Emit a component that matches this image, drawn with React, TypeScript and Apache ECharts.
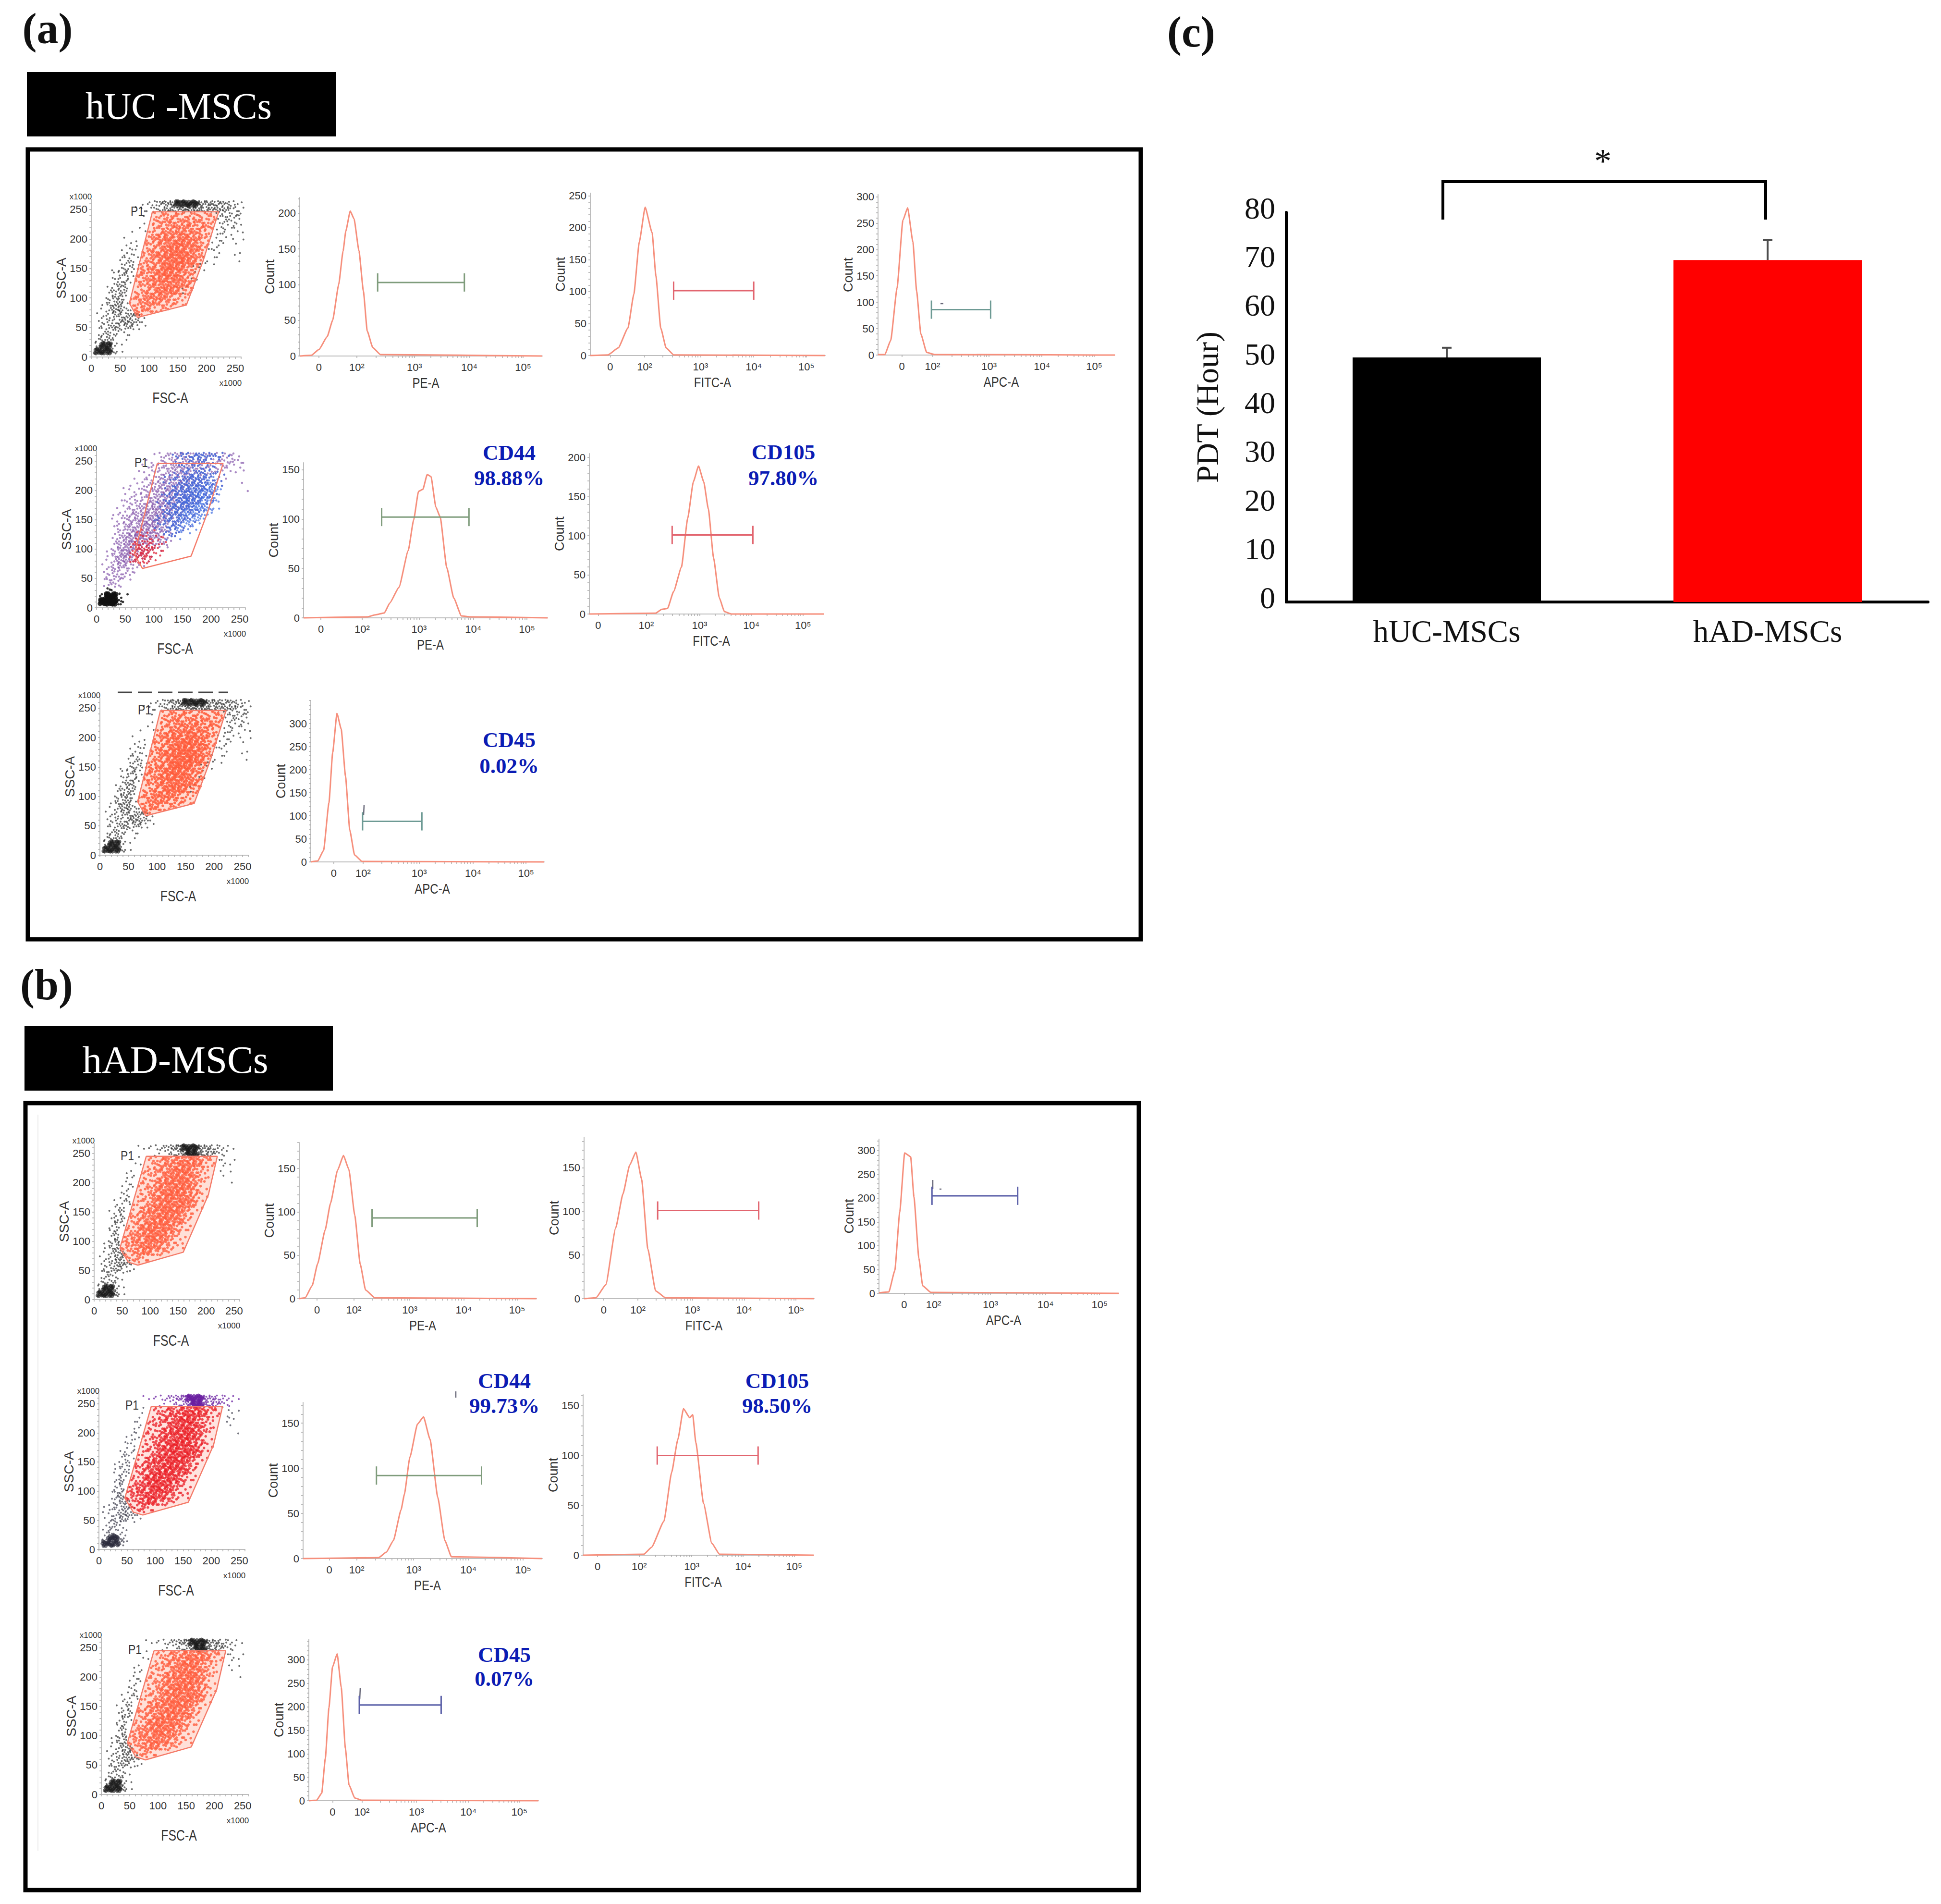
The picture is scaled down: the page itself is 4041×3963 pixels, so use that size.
import React, { useEffect, useRef } from "react";
import * as echarts from "echarts";

// ---------- panel (c) values ----------
const pdtCategories = ["hUC-MSCs", "hAD-MSCs"];
const pdtValues = [50.2, 70.2];
const pdtErrors = [2.0, 4.1];
const pdtTicks = [0, 10, 20, 30, 40, 50, 60, 70, 80];

// ---------- histogram curves: [display position in decades, count] ----------
const aPeCurve = [[0.91,0],[1.12,1],[1.26,9],[1.41,27],[1.51,50],[1.62,100],[1.7,147],[1.75,175],[1.83,203],[1.9,192],[1.99,147],[2.07,91],[2.14,35],[2.24,12],[2.38,2],[5.33,0]];
const aFitcCurve = [[0.95,0],[1.28,1],[1.47,12],[1.65,43],[1.76,96],[1.86,177],[1.97,232],[2.1,192],[2.17,125],[2.26,43],[2.36,12],[2.5,1],[5.32,0]];
const aApcCurve = [[0.9,1],[1.03,1],[1.14,28],[1.26,127],[1.37,255],[1.46,279],[1.56,214],[1.63,121],[1.71,40],[1.82,5],[1.97,1],[5.38,0]];
const aCd44Curve = [[0.87,0],[2.05,1],[2.19,3],[2.36,5],[2.46,15],[2.63,31],[2.8,68],[2.9,99],[2.99,128],[3.07,130],[3.15,145],[3.22,143],[3.31,112],[3.39,102],[3.51,51],[3.64,20],[3.78,2],[3.95,1],[5.37,0]];
const aCd105Curve = [[0.87,0],[2.15,1],[2.27,6],[2.38,7],[2.5,29],[2.65,60],[2.77,122],[2.88,169],[2.98,189],[3.08,169],[3.17,134],[3.27,72],[3.38,21],[3.48,3],[3.62,0],[5.4,0]];
const aCd45Curve = [[0.97,0],[1.1,2],[1.21,25],[1.31,128],[1.38,237],[1.46,322],[1.54,288],[1.62,186],[1.7,69],[1.79,15],[1.93,1],[5.34,0]];
const bPeCurve = [[0.95,0],[1.06,1],[1.19,15],[1.29,40],[1.43,79],[1.53,110],[1.66,148],[1.77,165],[1.87,149],[1.98,96],[2.08,40],[2.18,10],[2.35,1],[5.35,0]];
const bFitcCurve = [[0.91,0],[1.14,1],[1.33,16],[1.52,81],[1.66,120],[1.79,153],[1.91,168],[2.02,137],[2.14,57],[2.29,9],[2.48,1],[5.35,0]];
const bApcCurve = [[0.96,1],[1.14,3],[1.25,48],[1.34,171],[1.43,295],[1.54,287],[1.6,203],[1.69,74],[1.76,16],[1.91,2],[5.35,0]];
const bCd44Curve = [[0.98,0],[2.36,1],[2.5,7],[2.63,20],[2.77,54],[2.83,71],[2.93,112],[3.07,149],[3.18,157],[3.3,132],[3.44,68],[3.57,20],[3.69,2],[5.35,0]];
const bCd105Curve = [[0.89,0],[2.07,1],[2.22,8],[2.46,34],[2.61,83],[2.73,116],[2.84,147],[2.96,138],[3.02,141],[3.08,113],[3.23,52],[3.39,12],[3.54,1],[5.37,0]];
const bCd45Curve = [[0.91,0],[1.06,1],[1.16,16],[1.23,90],[1.3,198],[1.37,285],[1.46,313],[1.54,241],[1.62,111],[1.69,34],[1.8,6],[1.94,1],[5.37,0]];

const decadeLabels = ["0", "10²", "10³", "10⁴", "10⁵"];
const scatterLabels = [0, 50, 100, 150, 200, 250];

// ---------- scatter gates ----------
const aGate = [[106,246],[221,246],[194,163],[165,88],[80,67],[66,91],[106,246]];
const bGate = [[93,245],[220,245],[204,179],[159,81],[78,59],[61,64],[46,88],[93,245]];

// ---------- scatter densities: rows from SSC 260 downward, one char per 10 FSC units ----------
const aOutsideDensity = [
"000000000124578999987765431","000000001223467788887666432","000000000100000000000023432","000000000100000000000023321",
"000000001000000000000013221","000000010100000000000022111","000000101000000000000122011","000000111000000000000121010",
"000001121000000000001210001","000001231000000000001110010","000002341000000000012100001","000012430000000000111000000",
"000013520000000000100000000","000024510000000001100000000","000135400000000011000000000","000245300000000010000000000",
"000356200000000000000000000","001467100000000000000000000","001367310000000000000000000","012345664100000000000000000",
"012346764100000000000000000","012464452100000000000000000","013531210000000000000000000","025420100000000000000000000",
"039921000000000000000000000","099951000000000000000000000"];
const aGateDensity = [
"0000000000023434343333","0000000000034454545443","0000000000234556565543","000000000024566676543",
"000000000035677787643","000000000234678988753","00000000034567899764","00000000024678999864",
"00000000234578999763","0000000024567998753","0000000034568988642","00000002345778876432",
"0000000023567877543","0000000034567776432","000000024566654320","00000002356544322",
"00000002454322","0000000022"];
const a2OutsideDensity = [
"000000000012345666665443210","000000000112334555654433321","000000001123456666654332110","000000011123456776654321101",
"000000011234567787653211000","000000112345678887653110010","000001123456788887542100001","000001223456788887531100000",
"000012234567888875321000000","000012345678888764210000000","000123456788887532100000000","000123567788876421000000000",
"000124667887654210000000000","000135677876543100000000000","000146788765421000000000000","000256887654310000000000000",
"001367875432100000000000000","001478764310000000000000000","001367543100000000000000000","012455421000000000000000000",
"012343210000000000000000000","013442100000000000000000000","012420000000000000000000000"];
const a2CoreDensity = [
"000000000000012345654321000","000000000000001233432100000","000000000000001223332100000","000000000000012345543210000",
"000000000000123567765310000","000000000000124678876410000","000000000000135789987410000","000000000001246899986300000",
"000000000001357899975200000","000000000001357899864100000","000000000001467887531000000","000000000012467765310000000",
"000000000012356532100000000","000000000001234321000000000","000000000000121100000000000"];
const a2LowDensity = ["0000000111100","0000000222221","0000001344321","0000002566421","0000003675310","0000002553100"];
const originDensity = ["003200000","039921000","099951000"];
const bOutsideDensity = [
"000000001122346899986542110","000000000001123589987532100","000000001000000000000011010","000000011000000000000002100",
"000000110000000000000001100","000000120000000000000001000","000000210000000000000000010","000001210000000000000000000",
"000002200000000000000000000","000012300000000000000000000","000023100000000000000000000","000124000000000000000000000",
"000134000000000000000000000","000143000000000000000000000","000250000000000000000000000","000240000000000000000000000",
"001360000000000000000000000","001460000000000000000000000","001356000000000000000000000","012356100000000000000000000",
"012367410000000000000000000","013453210000000000000000000","013320000000000000000000000","024321000000000000000000000",
"039931000000000000000000000","099961000000000000000000000"];
const bGateDensity = [
"0000000000234546766532","0000000000234567776532","000000000234567887532","0000000002234678875320",
"000000002234678887521","000000002245778887421","000000002245788887421","00000002234678888752",
"00000002245788887531","0000000235678887532","000000234567888753","000000234678887531",
"000000235788876421","000002356788764211","000002456778653210","00000235677654211",
"00000234566432","000002333211","000000222"];
const bTopBand = ["000000001122346899986542110","000000000001123589987532100"];
// where inside a 10-unit density cell its counted dots sit
const cellSpots = [[-3,2],[3,-3],[0,4],[-4,-3],[4,3],[1,-1],[-2,-4],[3,1],[-1,3],[-4,0],[2,-4],[-1,-2],[4,-1],[-3,4],[1,2],[-2,-1]];

// ---------- layout ----------
const W = 4041;
const H = 3963;
const SANS = '"Liberation Sans","DejaVu Sans",sans-serif';
const SERIF = '"Liberation Serif","Times New Roman",serif';
const BLUE = "#0b1cb4";
const CURVE = "#f68f7c";
const GREEN = "#7f9c7c";
const ROSE = "#e2656f";
const TEAL = "#6d9a94";
const INDIGO = "#5a5fa8";

const layer = (rows, top, color, size, opacity, clipToGate = false, swell = false) => ({ rows, top, color, size, opacity, clipToGate, swell });

const scatterPanels = [
  { box: [189, 502, 415, 743], gate: aGate, pale: "#ffe0d8", p1: [97, 24], layers: [layer(aOutsideDensity, 260, "#1a1a1a", 4, 0.65, false, true)], inner: [layer(aGateDensity, 240, "#ff5a3a", 5.5, 0.78, true)] },
  { box: [200, 511, 939, 1265], gate: aGate, pale: null, p1: [94, 23], layers: [layer(originDensity, 30, "#111", 5, 0.85, false, true), layer(a2OutsideDensity, 260, "#75409f", 4.5, 0.62)], inner: [layer(a2CoreDensity, 260, "#3a6ae0", 4.5, 0.7), layer(a2LowDensity, 130, "#e0283c", 4.5, 0.8)] },
  { box: [207, 517, 1453, 1780], gate: aGate, pale: "#ffdcd2", p1: [94, 24], layers: [layer(aOutsideDensity, 260, "#1a1a1a", 4, 0.65, false, true)], inner: [layer(aGateDensity, 240, "#ff5a3a", 5.5, 0.85, true)] },
  { box: [195, 499, 2380, 2705], gate: bGate, pale: "#ffe0d8", p1: [70, 25], layers: [layer(bOutsideDensity, 260, "#1a1a1a", 4, 0.65, false, true)], inner: [layer(bGateDensity, 240, "#ff5a3a", 5.5, 0.78, true)] },
  { box: [205, 510, 2901, 3225], gate: bGate, pale: "#ffe4e0", p1: [70, 23], layers: [layer(bOutsideDensity.slice(2), 240, "#2a2a3a", 4, 0.65, false, true), layer(bTopBand, 260, "#6a1fa0", 4, 0.75, false, true)], inner: [layer(bGateDensity, 240, "#ea1a22", 5.5, 0.75, true)] },
  { box: [210, 517, 3409, 3735], gate: bGate, pale: "#ffe0d8", p1: [71, 24], layers: [layer(bOutsideDensity, 260, "#1a1a1a", 4, 0.65, false, true)], inner: [layer(bGateDensity, 240, "#ff5a3a", 5.5, 0.78, true)] },
];

const histPanels = [
  { box: [624, 1129, 411, 741], curve: aPeCurve, yMax: 222, yLabels: [0,50,100,150,200], xTicks: [1.26,1.95,3,4,4.98], name: "PE-A", gate: [2.33,3.91,103], gateColor: GREEN },
  { box: [1229, 1718, 402, 740], curve: aFitcCurve, yMax: 254, yLabels: [0,50,100,150,200,250], xTicks: [1.32,1.96,3,3.99,4.97], name: "FITC-A", gate: [2.5,3.99,101.5], gateColor: ROSE },
  { box: [1828, 2321, 405, 739], curve: aApcCurve, yMax: 304, yLabels: [0,50,100,150,200,250,300], xTicks: [1.35,1.93,3,4,4.99], name: "APC-A", gate: [1.91,3.03,86], gateColor: TEAL },
  { box: [632, 1140, 963, 1286], curve: aCd44Curve, yMax: 157, yLabels: [0,50,100,150], xTicks: [1.19,1.95,3,4,4.99], name: "PE-A", gate: [2.31,3.92,102], gateColor: GREEN },
  { box: [1227, 1715, 944, 1278], curve: aCd105Curve, yMax: 205, yLabels: [0,50,100,150,200], xTicks: [1.04,1.97,3,4,5], name: "FITC-A", gate: [2.47,4.03,101], gateColor: ROSE },
  { box: [647, 1133, 1458, 1794], curve: aCd45Curve, yMax: 350, yLabels: [0,50,100,150,200,250,300], xTicks: [1.4,1.95,3,4.01,5], name: "APC-A", gate: [1.94,3.05,88], gateColor: TEAL },
  { box: [623, 1117, 2378, 2703], curve: bPeCurve, yMax: 180, yLabels: [0,50,100,150], xTicks: [1.28,1.96,3,4,4.99], name: "PE-A", gate: [2.3,4.25,93], gateColor: GREEN },
  { box: [1216, 1695, 2367, 2703], curve: bFitcCurve, yMax: 185, yLabels: [0,50,100,150], xTicks: [1.29,1.95,3,4,5], name: "FITC-A", gate: [2.33,4.28,101], gateColor: ROSE },
  { box: [1830, 2329, 2371, 2692], curve: bApcCurve, yMax: 324, yLabels: [0,50,100,150,200,250,300], xTicks: [1.42,1.96,3,4.01,5], name: "APC-A", gate: [1.93,3.5,205], gateColor: INDIGO },
  { box: [631, 1129, 2919, 3244], curve: bCd44Curve, yMax: 173, yLabels: [0,50,100,150], xTicks: [1.46,1.96,3,4,5], name: "PE-A", gate: [2.32,4.24,92], gateColor: GREEN },
  { box: [1214, 1694, 2903, 3237], curve: bCd105Curve, yMax: 161, yLabels: [0,50,100,150], xTicks: [1.17,1.98,3,4,4.99], name: "FITC-A", gate: [2.33,4.29,100], gateColor: ROSE },
  { box: [643, 1121, 3412, 3748], curve: bCd45Curve, yMax: 344, yLabels: [0,50,100,150,200,250,300], xTicks: [1.37,1.94,3,4.01,5], name: "APC-A", gate: [1.89,3.48,204], gateColor: INDIGO },
];

const markerTexts = [
  ["CD44", 1060, 942], ["98.88%", 1060, 995],
  ["CD105", 1631, 941], ["97.80%", 1631, 995],
  ["CD45", 1060, 1540], ["0.02%", 1060, 1594],
  ["CD44", 1050, 2874], ["99.73%", 1050, 2926],
  ["CD105", 1618, 2874], ["98.50%", 1618, 2926],
  ["CD45", 1050, 3444], ["0.07%", 1050, 3494],
];
// stray marks left in the source plots
const strayMarks = [[758,1675,757,1696],[750,3513,749,3537],[1942,2456,1942,2475],[1956,2475,1960,2475],[1958,632,1964,632],[949,2896,949,2909]];

const range = (from, to, step) => {
  const out = [];
  for (let v = from; v <= to + 1e-9; v += step) out.push(+v.toFixed(3));
  return out;
};
const decadeMinor = [0.301, 0.477, 0.602, 0.699, 0.778, 0.845, 0.903, 0.954];

function inPolygon(x, y, poly) {
  let inside = false;
  for (let i = 0, j = poly.length - 1; i < poly.length; j = i++) {
    const [xi, yi] = poly[i];
    const [xj, yj] = poly[j];
    if (yi > y !== yj > y && x < ((xj - xi) * (y - yi)) / (yj - yi) + xi) inside = !inside;
  }
  return inside;
}

function densityPoints(l, gate) {
  const out = [];
  l.rows.forEach((row, r) => {
    [...row].forEach((c, i) => {
      const d = Number(c);
      for (let k = 0; k < d; k++) {
        const spot = cellSpots[(r * 5 + i * 3 + k) % cellSpots.length];
        const x = i * 10 + spot[0];
        const y = l.top - r * 10 + spot[1];
        if (!l.clipToGate || inPolygon(x, y, gate)) out.push([x, y, d]);
      }
    });
  });
  return out;
}

function buildOption() {
  const grid = [], xAxis = [], yAxis = [], series = [], graphic = [];
  const axisLine = { show: true, lineStyle: { color: "#bdbdbd", width: 2 } };
  const tickStyle = { color: "#a8a8a8", width: 1.5 };
  const labelStyle = { fontFamily: SANS, fontSize: 22, color: "#333" };
  const text = (t, x, y, o = {}) => graphic.push({ type: "text", x, y, silent: true, ...(o.scaleX ? { scaleX: o.scaleX } : {}), style: { text: t, textAlign: "center", textVerticalAlign: "middle", fontFamily: SANS, fontSize: 21, fill: "#333", ...o } });

  scatterPanels.forEach((p) => {
    const [L, R, T, B] = p.box;
    const i = grid.length;
    grid.push({ left: L, top: T, width: R - L, height: B - T });
    xAxis.push({ type: "value", gridIndex: i, min: -1, max: 260, axisLine, splitLine: { show: false }, axisTick: { show: true, customValues: range(0, 260, 10), length: 4, lineStyle: tickStyle }, axisLabel: { ...labelStyle, customValues: scatterLabels, margin: 12, formatter: (v) => String(v) } });
    yAxis.push({ type: "value", gridIndex: i, min: 0, max: 267, name: "SSC-A", nameLocation: "middle", nameGap: 46, nameTextStyle: { fontFamily: SANS, fontSize: 28, color: "#333" }, axisLine, splitLine: { show: false }, axisTick: { show: true, customValues: range(0, 260, 10), length: 4, lineStyle: tickStyle }, axisLabel: { ...labelStyle, customValues: scatterLabels, margin: 7, formatter: (v) => String(v) } });
    const dotSeries = (l) => series.push({ type: "scatter", xAxisIndex: i, yAxisIndex: i, silent: true, clip: false, data: densityPoints(l, p.gate), symbolSize: (v) => (l.swell && v[2] >= 9 ? l.size * 2 : l.size), itemStyle: { color: l.color, opacity: l.opacity } });
    p.layers.forEach(dotSeries);
    if (p.pale) {
      series.push({
        type: "custom", xAxisIndex: i, yAxisIndex: i, silent: true, clip: false, data: p.gate,
        renderItem: (params: any, api: any) => params.dataIndex !== 0 ? null : ({
          type: "polygon", shape: { points: p.gate.map((g) => api.coord(g)) }, style: { fill: p.pale },
        }),
      });
    }
    p.inner.forEach(dotSeries);
    series.push({ type: "line", xAxisIndex: i, yAxisIndex: i, silent: true, data: p.gate, symbol: "none", lineStyle: { color: "#f47a68", width: 2.5 } });
    text("P1", L + p.p1[0], T + p.p1[1], { fontSize: 27, scaleX: 0.85 });
    text("x1000", L - 21, T - 6, { fontSize: 17 });
    text("x1000", R - 22, B + 54, { fontSize: 17 });
    text("FSC-A", (L + R) / 2 + 9, B + 86, { fontSize: 31, scaleX: 0.8 });
  });

  histPanels.forEach((p) => {
    const [L, R, T, B] = p.box;
    const i = grid.length;
    const xMin = p.curve[0][0];
    const xMax = p.curve[p.curve.length - 1][0];
    const minor = [];
    [2, 3, 4].forEach((d) => decadeMinor.forEach((m) => minor.push(d + m)));
    grid.push({ left: L, top: T, width: R - L, height: B - T });
    xAxis.push({
      type: "value", gridIndex: i, min: xMin, max: xMax, axisLine, splitLine: { show: false },
      axisTick: { show: true, customValues: [...p.xTicks, ...minor], length: 4, lineStyle: tickStyle },
      axisLabel: { ...labelStyle, customValues: p.xTicks, margin: 12, showMinLabel: true, showMaxLabel: true, formatter: (v) => decadeLabels[p.xTicks.indexOf(v)] ?? "" },
    });
    yAxis.push({
      type: "value", gridIndex: i, min: 0, max: p.yMax, name: "Count", nameLocation: "middle", nameGap: 44,
      nameTextStyle: { fontFamily: SANS, fontSize: 27, color: "#333" }, axisLine, splitLine: { show: false },
      axisTick: { show: true, customValues: range(0, p.yMax, 10), length: 4, lineStyle: tickStyle },
      axisLabel: { ...labelStyle, customValues: p.yLabels, margin: 8, formatter: (v) => String(v) },
    });
    series.push({ type: "line", xAxisIndex: i, yAxisIndex: i, silent: true, clip: false, data: p.curve, symbol: "none", smooth: 0.15, smoothMonotone: "x", lineStyle: { color: CURVE, width: 3 } });
    series.push({
      type: "line", xAxisIndex: i, yAxisIndex: i, silent: true, clip: false,
      data: [[p.gate[0], p.gate[2]], [p.gate[1], p.gate[2]]],
      symbol: "rect", symbolSize: [3, 38], showSymbol: true, itemStyle: { color: p.gateColor },
      lineStyle: { color: p.gateColor, width: 3 },
    });
    text(p.name, (L + R) / 2 + 10, B + 56, { fontSize: 30, scaleX: 0.8 });
  });

  // panel (c)
  const c = grid.length;
  grid.push({ left: 2678, top: 442, width: 1336, height: 811 });
  xAxis.push({ type: "category", gridIndex: c, data: pdtCategories, axisLine: { show: true, lineStyle: { color: "#000", width: 6 } }, axisTick: { show: false }, splitLine: { show: false }, axisLabel: { fontFamily: SERIF, fontSize: 65, color: "#111", margin: 28 } });
  yAxis.push({ type: "value", gridIndex: c, min: 0, max: 80, interval: 10, name: "PDT (Hour)", nameLocation: "middle", nameGap: 132, nameTextStyle: { fontFamily: SERIF, fontSize: 65, color: "#111" }, axisLine: { show: true, lineStyle: { color: "#000", width: 6 } }, axisTick: { show: false }, splitLine: { show: false }, axisLabel: { fontFamily: SERIF, fontSize: 64, color: "#111", margin: 23, verticalAlign: "bottom", lineHeight: 18, customValues: pdtTicks, formatter: (v) => String(v) } });
  series.push({ type: "bar", xAxisIndex: c, yAxisIndex: c, silent: true, barWidth: 392, data: pdtValues.map((v, i) => ({ value: v, itemStyle: { color: i === 0 ? "#000000" : "#ff0000" } })) });
  series.push({
    type: "custom", xAxisIndex: c, yAxisIndex: c, silent: true, z: 1, clip: false,
    data: pdtValues.map((v, i) => [i, v, v + pdtErrors[i]]),
    renderItem: (_: any, api: any) => {
      const a = api.coord([api.value(0), api.value(1)]);
      const b = api.coord([api.value(0), api.value(2)]);
      const st = { stroke: "#4d4d4d", lineWidth: 4 };
      return { type: "group", children: [
        { type: "line", shape: { x1: a[0], y1: a[1], x2: b[0], y2: b[1] }, style: st },
        { type: "line", shape: { x1: b[0] - 10, y1: b[1], x2: b[0] + 10, y2: b[1] }, style: st },
      ] };
    },
  });

  // figure furniture
  const label = (t, x, y) => graphic.push({ type: "text", x, y, silent: true, style: { text: t, textAlign: "center", textVerticalAlign: "middle", fontFamily: SERIF, fontWeight: "bold", fontSize: 90, fill: "#111" } });
  label("(a)", 99, 59);
  label("(b)", 97, 2049);
  label("(c)", 2480, 66);
  graphic.push({ type: "rect", shape: { x: 56, y: 150, width: 643, height: 134 }, style: { fill: "#000" }, silent: true });
  graphic.push({ type: "rect", shape: { x: 51, y: 2136, width: 642, height: 134 }, style: { fill: "#000" }, silent: true });
  graphic.push({ type: "text", x: 372, y: 220, silent: true, style: { text: "hUC -MSCs", textAlign: "center", textVerticalAlign: "middle", fontFamily: SERIF, fontSize: 78, fill: "#fff" } });
  graphic.push({ type: "text", x: 365, y: 2206, silent: true, style: { text: "hAD-MSCs", textAlign: "center", textVerticalAlign: "middle", fontFamily: SERIF, fontSize: 81, fill: "#fff" } });
  graphic.push({ type: "rect", shape: { x: 58, y: 311, width: 2317, height: 1644 }, style: { fill: "none", stroke: "#000", lineWidth: 9 }, silent: true });
  graphic.push({ type: "rect", shape: { x: 53, y: 2296, width: 2318, height: 1638 }, style: { fill: "none", stroke: "#000", lineWidth: 9 }, silent: true });
  graphic.push({ type: "line", shape: { x1: 79, y1: 2320, x2: 79, y2: 3852 }, style: { stroke: "#ececec", lineWidth: 2 }, silent: true });
  graphic.push({ type: "line", shape: { x1: 245, y1: 1441, x2: 475, y2: 1441 }, style: { stroke: "#444", lineWidth: 3, lineDash: [30, 12] }, silent: true });
  strayMarks.forEach(([x1, y1, x2, y2]) => graphic.push({ type: "line", shape: { x1, y1, x2, y2 }, style: { stroke: "#667", lineWidth: 2.5 }, silent: true }));
  graphic.push({ type: "polyline", shape: { points: [[3004, 457], [3004, 378], [3676, 378], [3676, 457]] }, style: { fill: "none", stroke: "#000", lineWidth: 6 }, silent: true });
  graphic.push({ type: "text", x: 3337, y: 335, silent: true, style: { text: "*", textAlign: "center", textVerticalAlign: "middle", fontFamily: SERIF, fontSize: 72, fill: "#111" } });
  markerTexts.forEach(([t, x, y]) => graphic.push({ type: "text", x, y, silent: true, style: { text: t, textAlign: "center", textVerticalAlign: "middle", fontFamily: SERIF, fontWeight: "bold", fontSize: 45, fill: BLUE } }));

  return { animation: false, backgroundColor: "#fff", grid, xAxis, yAxis, series, graphic };
}

export default function App() {
  const ref = useRef<HTMLDivElement>(null);
  useEffect(() => {
    document.body.style.margin = "0";
    const chart = echarts.init(ref.current, null, { renderer: "svg" });
    chart.setOption(buildOption());
    return () => chart.dispose();
  }, []);
  return <div ref={ref} style={{ width: W, height: H }} />;
}
